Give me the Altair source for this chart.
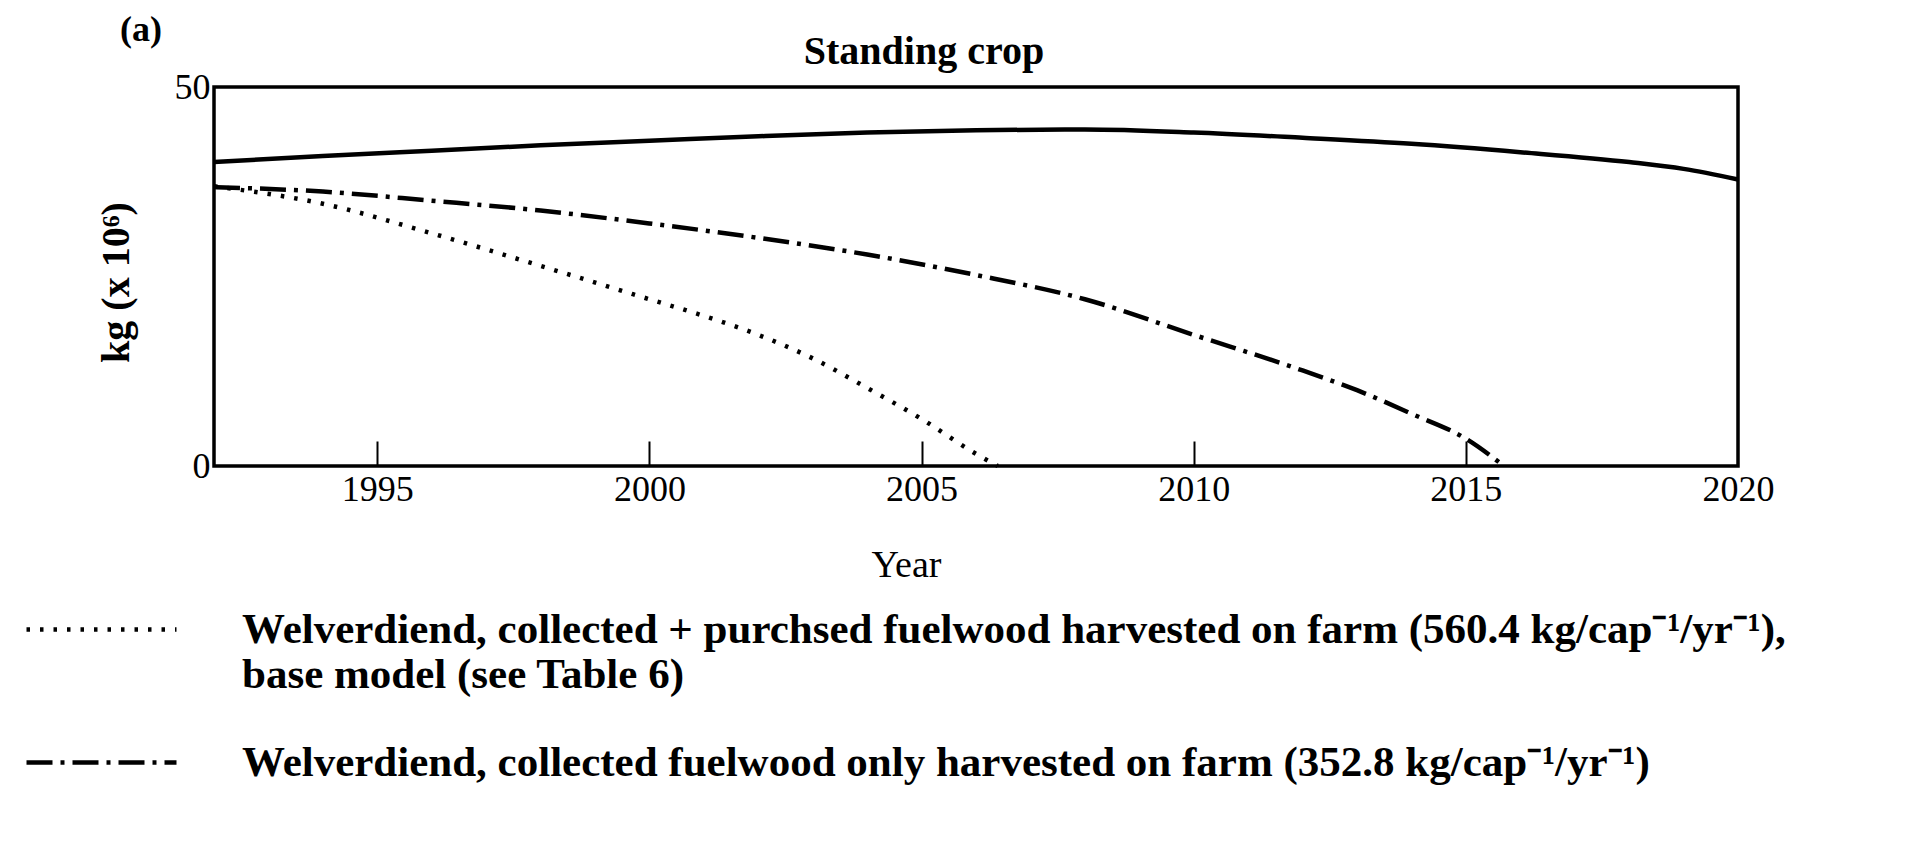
import json
import altair as alt
import pandas as pd

# ---------------- data ----------------
solid_years = [1992, 1994, 1996, 1998, 2000, 2002, 2004, 2006, 2008, 2010, 2012, 2014, 2016, 2018, 2019, 2020]
solid_vals = [40.1, 40.9, 41.6, 42.3, 42.9, 43.5, 44.0, 44.3, 44.4, 44.0, 43.3, 42.5, 41.4, 40.1, 39.2, 37.8]

dashdot_years = [1992, 1994, 1996, 1998, 2000, 2002, 2004, 2006, 2008, 2010, 2012, 2013, 2014, 2015, 2015.7]
dashdot_vals = [36.8, 36.2, 35.0, 33.7, 32.0, 30.1, 27.9, 25.2, 22.0, 17.3, 12.6, 10.0, 6.9, 3.6, 0.0]

dotted_years = [1992, 1994, 1996, 1998, 2000, 2001, 2002, 2003, 2004, 2005, 2006, 2006.4]
dotted_vals = [36.9, 34.6, 30.7, 26.4, 22.0, 19.8, 17.3, 14.2, 10.3, 6.2, 1.6, 0.0]

x_label_values = [1995, 2000, 2005, 2010, 2015, 2020]
x_tick_values = [1995, 2000, 2005, 2010, 2015]
y_label_values = [0, 50]

series_keys = ["dotted", "dashdot"]
legend_text_dotted = [
    "Welverdiend, collected + purchsed fuelwood harvested on farm (560.4 kg/cap\u207b\u00b9/yr\u207b\u00b9),",
    "base model (see Table 6)",
]
legend_text_dashdot = "Welverdiend, collected fuelwood only harvested on farm (352.8 kg/cap\u207b\u00b9/yr\u207b\u00b9)"

title_text = ["Standing crop"]
panel_text = ["(a)"]
x_title = "Year"
y_title = "kg (x 10\u2076)"

# ---------------- tables ----------------
solid_df = pd.DataFrame({"year": solid_years, "value": solid_vals})
lines_df = pd.concat([
    pd.DataFrame({"year": dotted_years, "value": dotted_vals, "series": series_keys[0], "order": range(len(dotted_years))}),
    pd.DataFrame({"year": dashdot_years, "value": dashdot_vals, "series": series_keys[1], "order": range(len(dashdot_years))}),
], ignore_index=True)
panel_df = pd.DataFrame({"t": panel_text})
title_df = pd.DataFrame({"t": title_text})

FONT = "Liberation Serif"
W, H = 1524, 379

x_scale = alt.Scale(domain=[1992, 2020], nice=False, zero=False)
y_scale = alt.Scale(domain=[0, 50], nice=False, zero=True)

y_axis = alt.Axis(
    values=y_label_values, ticks=False, domain=False, grid=False,
    labelFont=FONT, labelFontSize=36, labelColor="black", labelPadding=4,
    title=y_title, titleFont=FONT, titleFontSize=40, titleFontWeight="bold", titleColor="black",
    titleX=-98, titleY=195, titleAlign="center", titleBaseline="middle",
)

x_axis_labels = alt.Axis(
    orient="bottom", values=x_label_values, format="d", ticks=False, domain=False, grid=False,
    labelFont=FONT, labelFontSize=36, labelColor="black", labelPadding=6,
    labelFlush=False, labelOverlap=False,
    title=x_title, titleFont=FONT, titleFontSize=38, titleFontWeight="normal", titleColor="black",
    titleX=692, titleY=99, titleAlign="center", titleBaseline="middle",
)

x_axis_ticks = alt.Axis(
    orient="bottom", values=x_tick_values, labels=False, domain=False, grid=False,
    ticks=True, tickSize=25, tickWidth=2, tickColor="black", offset=-25, title=None,
)

label_expr = "datum.label == {} ? {} : {}".format(
    json.dumps(series_keys[0], ensure_ascii=False),
    json.dumps(legend_text_dotted, ensure_ascii=False),
    json.dumps(legend_text_dashdot, ensure_ascii=False),
)

legend = alt.Legend(
    orient="none", legendX=-190, legendY=477, title=None, padding=0,
    symbolType="stroke", symbolSize=150 * 150, symbolStrokeWidth=4.5, symbolStrokeColor="black",
    labelFont=FONT, labelFontSize=43, labelFontWeight="bold", labelColor="black",
    labelLimit=0, labelOffset=63, rowPadding=0, clipHeight=131, labelExpr=label_expr,
)

solid = alt.Chart(solid_df).mark_line(color="black", strokeWidth=4.5, interpolate="monotone").encode(
    x=alt.X("year:Q", scale=x_scale, axis=x_axis_labels),
    y=alt.Y("value:Q", scale=y_scale, axis=y_axis),
)

dashed = alt.Chart(lines_df).mark_line(color="black", strokeWidth=4.5, interpolate="monotone").encode(
    x=alt.X("year:Q", scale=x_scale, axis=x_axis_ticks),
    y=alt.Y("value:Q", scale=y_scale, axis=y_axis),
    detail="series:N",
    order="order:Q",
    strokeDash=alt.StrokeDash(
        "series:N",
        scale=alt.Scale(domain=series_keys, range=[[3.5, 10], [26, 8, 4, 8]]),
        legend=legend,
    ),
)

panel = alt.Chart(panel_df).mark_text(
    font=FONT, fontSize=36, fontWeight="bold", color="black", align="center", baseline="alphabetic"
).encode(text="t:N", x=alt.value(-73), y=alt.value(-46))

title = alt.Chart(title_df).mark_text(
    font=FONT, fontSize=40, fontWeight="bold", color="black", align="center", baseline="alphabetic"
).encode(text="t:N", x=alt.value(710), y=alt.value(-23))

chart = alt.layer(solid, dashed, panel, title).resolve_axis(x="independent").properties(
    width=W, height=H,
    autosize=alt.AutoSizeParams(type="none"),
    padding={"left": 206, "top": 79, "right": 170, "bottom": 370},
    background="white",
).configure_view(stroke="black", strokeWidth=3.5)

chart.save("out.html", embed_options={"renderer": "svg", "actions": False})
